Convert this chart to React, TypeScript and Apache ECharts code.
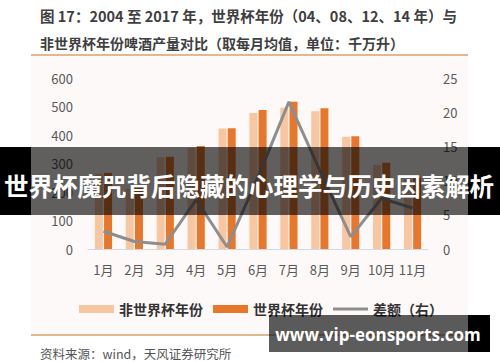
import React, { useEffect, useRef } from "react";
import * as echarts from "echarts";

const categories = ["1月", "2月", "3月", "4月", "5月", "6月", "7月", "8月", "9月", "10月", "11月"];
const nonWorldCup = [264, 212, 322, 354, 423, 477, 496, 483, 394, 295, 244];
const worldCup = [267, 215, 324, 361, 424, 488, 517, 494, 396, 303, 250];
const diff = [2.6, 1.1, 0.7, 7.2, 0.3, 10.5, 21.5, 11.5, 1.8, 7.4, 6.0];

const titleLine1 = "图 17：2004 至 2017 年，世界杯年份（04、08、12、14 年）与";
const titleLine2 = "非世界杯年份啤酒产量对比（取每月均值，单位：千万升）";
const sourceText = "资料来源：wind，天风证券研究所";
const bannerText = "世界杯魔咒背后隐藏的心理学与历史因素解析";
const watermarkText = "www.vip-eonsports.com";

const FONT = '"Noto Sans CJK SC", "Noto Sans", sans-serif';

export default function App() {
  const ref = useRef<HTMLDivElement>(null);
  useEffect(() => {
    if (!ref.current) return;
    const chart = echarts.init(ref.current, undefined, { renderer: "svg" });
    chart.setOption({
      animation: false,
      backgroundColor: "#ffffff",
      textStyle: { fontFamily: FONT },
      grid: { left: 88, right: 72, top: 78, bottom: 113 },
      legend: {
        left: 74,
        top: 297,
        itemWidth: 35,
        itemHeight: 8,
        itemGap: 10,
        textStyle: { fontSize: 14, fontWeight: "bold", color: "#333333", fontFamily: FONT },
        data: [
          { name: "非世界杯年份", icon: "rect" },
          { name: "世界杯年份", icon: "rect" },
          { name: "差额（右）", icon: "path://M0,0 H35 V3 H0 Z" },
        ],
      },
      xAxis: {
        type: "category",
        data: categories,
        axisLine: { lineStyle: { color: "#d3d9e2", width: 1 } },
        axisTick: { show: false },
        axisLabel: { color: "#595959", fontSize: 13, margin: 14, interval: 0, fontFamily: FONT },
      },
      yAxis: [
        {
          type: "value",
          min: 0,
          max: 600,
          interval: 100,
          axisLine: { show: false },
          axisTick: { show: false },
          splitLine: { show: false },
          axisLabel: { color: "#595959", fontSize: 13, margin: 15, fontFamily: FONT },
        },
        {
          type: "value",
          min: 0,
          max: 25,
          interval: 5,
          axisLine: { show: false },
          axisTick: { show: false },
          splitLine: { show: false },
          axisLabel: { color: "#595959", fontSize: 13, margin: 15, fontFamily: FONT },
        },
      ],
      series: [
        {
          name: "非世界杯年份",
          type: "bar",
          data: nonWorldCup,
          barWidth: 8,
          barGap: "15%",
          itemStyle: { color: "#f8c6a0" },
        },
        {
          name: "世界杯年份",
          type: "bar",
          data: worldCup,
          barWidth: 8,
          itemStyle: { color: "#e9772b" },
        },
        {
          name: "差额（右）",
          type: "line",
          yAxisIndex: 1,
          data: diff,
          symbol: "none",
          lineStyle: { color: "#8e8e8e", width: 3 },
          itemStyle: { color: "#8e8e8e" },
          z: 5,
        },
      ],
      graphic: [
        { type: "rect", z: -1, shape: { x: 31, y: 56, width: 437, height: 278 }, style: { fill: "#fdf9f8" } },
        {
          type: "text",
          x: 40,
          y: 15,
          style: { text: titleLine1, font: `bold 14.5px ${FONT}`, fill: "#3f3f3f", verticalAlign: "middle" },
        },
        {
          type: "text",
          x: 40,
          y: 43,
          style: { text: titleLine2, font: `bold 14px ${FONT}`, fill: "#3f3f3f", verticalAlign: "middle" },
        },
        { type: "line", shape: { x1: 31, y1: 55, x2: 468, y2: 55 }, style: { stroke: "#d8a068", lineWidth: 1.5 } },
        { type: "line", shape: { x1: 31, y1: 335, x2: 468, y2: 335 }, style: { stroke: "#d8a068", lineWidth: 1.5 } },
        {
          type: "text",
          x: 40,
          y: 353,
          style: { text: sourceText, font: `12.5px ${FONT}`, fill: "#555555", verticalAlign: "middle" },
        },
        // banner
        { type: "rect", z: 100, shape: { x: 0, y: 147, width: 31, height: 68 }, style: { fill: "#000000" } },
        { type: "rect", z: 100, shape: { x: 468, y: 147, width: 32, height: 68 }, style: { fill: "#000000" } },
        { type: "rect", z: 100, shape: { x: 31, y: 147, width: 437, height: 68 }, style: { fill: "rgba(0,0,0,0.62)" } },
        {
          type: "text",
          z: 101,
          x: 249,
          y: 185,
          style: {
            text: bannerText,
            font: `bold 24.5px ${FONT}`,
            fill: "#ffffff",
            align: "center",
            verticalAlign: "middle",
          },
        },
        // watermark
        { type: "rect", z: 100, shape: { x: 269, y: 315, width: 199, height: 37 }, style: { fill: "rgba(0,0,0,0.64)" } },
        { type: "rect", z: 100, shape: { x: 468, y: 315, width: 22, height: 37 }, style: { fill: "#000000" } },
        {
          type: "text",
          z: 101,
          x: 378,
          y: 334,
          style: {
            text: watermarkText,
            font: `bold 17px "Open Sans", "Noto Sans", sans-serif`,
            fill: "#ffffff",
            align: "center",
            verticalAlign: "middle",
          },
        },
      ],
    });
    return () => chart.dispose();
  }, []);
  return (
    <div
      ref={ref}
      style={{ position: "fixed", left: 0, top: 0, width: 500, height: 362 }}
    />
  );
}
